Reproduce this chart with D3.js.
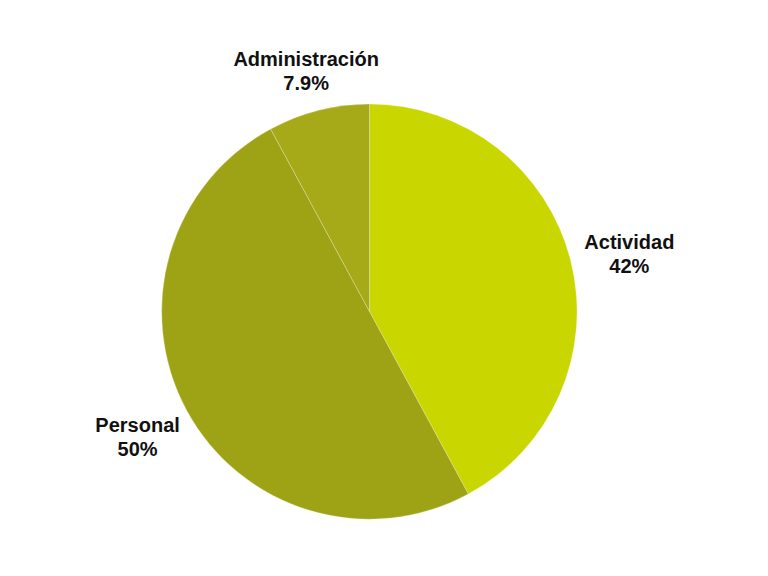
<!DOCTYPE html>
<html>
<head>
    <meta charset="UTF-8">
    <title>Distribución</title>
    <script src="https://d3js.org/d3.v7.min.js"></script>
    <style>
        body { margin: 0; background: #fff; }
        svg { font-family: "Liberation Sans", Arial, sans-serif; }
    </style>
</head>
<body>
    <svg></svg>
    <script>
        const categories = ['Actividad', 'Personal', 'Administración'];
        const values = [42.1, 50.0, 7.9];
        const valueLabels = ['42%', '50%', '7.9%'];
        const colors = ['#cad600', '#9da314', '#a6aa19'];

        const data = categories.map((c, i) => ({ name: c, value: values[i], label: valueLabels[i] }));

        const width = 768, height = 576;
        const cx = 369.5, cy = 311.5, radius = 207.5;

        const svg = d3.select('svg')
            .attr('width', width)
            .attr('height', height);

        const g = svg.append('g')
            .attr('transform', `translate(${cx},${cy})`);

        const pie = d3.pie()
            .sort(null)
            .value(d => d.value);

        const arc = d3.arc()
            .innerRadius(0)
            .outerRadius(radius);

        const arcs = pie(data);

        g.selectAll('.slice')
            .data(arcs)
            .enter().append('path')
            .attr('class', 'slice')
            .attr('d', arc)
            .attr('fill', (d, i) => colors[i])
            .attr('stroke', '#ffffff')
            .attr('stroke-opacity', 0.35)
            .attr('stroke-width', 0.7);

        // labels sit on an ellipse outside the pie, a bit below its centre
        const rx = 266, ry = 253, shiftY = 5;
        const labels = g.selectAll('.label')
            .data(arcs)
            .enter().append('text')
            .attr('class', 'label')
            .attr('text-anchor', 'middle')
            .attr('font-size', '20px')
            .attr('font-weight', 'bold')
            .attr('fill', '#111')
            .attr('transform', d => {
                const a = (d.startAngle + d.endAngle) / 2;
                return `translate(${Math.sin(a) * rx + 2},${-Math.cos(a) * ry + shiftY})`;
            });

        labels.append('tspan')
            .attr('x', 0)
            .attr('y', -12)
            .attr('dy', '0.35em')
            .text(d => d.data.name);

        labels.append('tspan')
            .attr('x', 0)
            .attr('y', 12)
            .attr('dy', '0.35em')
            .text(d => d.data.label);
    </script>
</body>
</html>
